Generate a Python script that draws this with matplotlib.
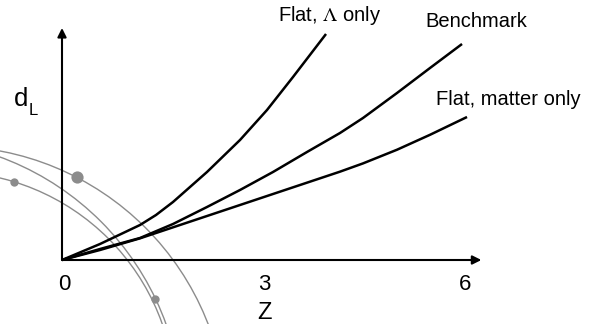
import matplotlib
matplotlib.use("Agg")
import matplotlib.pyplot as plt
from matplotlib.patches import Circle

plt.rcParams['font.family'] = ['Liberation Sans', 'DejaVu Sans']
plt.rcParams['mathtext.fontset'] = 'stix'

# luminosity distance curves (z, d_L in arbitrary units)
z_lambda = [0, 0.570, 1.170, 1.410, 1.665, 2.175, 2.670, 3.075, 3.465, 3.960]
dl_lambda = [0, 0.240, 0.525, 0.675, 0.870, 1.320, 1.800, 2.250, 2.745, 3.390]

z_bench = [0, 0.570, 1.170, 1.665, 2.175, 2.670, 3.165, 3.675, 4.170, 4.515, 5.025, 5.520, 6.000]
dl_bench = [0, 0.165, 0.330, 0.540, 0.795, 1.050, 1.320, 1.620, 1.905, 2.130, 2.505, 2.880, 3.240]

z_matter = [0, 0.570, 1.170, 1.665, 2.175, 2.670, 3.165, 3.675, 4.170, 4.515, 5.025, 5.520, 6.075]
dl_matter = [0, 0.150, 0.325, 0.490, 0.660, 0.825, 0.990, 1.160, 1.325, 1.449, 1.654, 1.878, 2.145]

curve_labels = [r'Flat, $\Lambda$ only', 'Benchmark', 'Flat, matter only']
label_pos = [(4.02, 3.66), (6.21, 3.57), (6.69, 2.40)]

# grey wavefront arcs: centre x, centre y, radius
arc_cx = [-1.698, -2.373, -1.728]
arc_cy = [-2.463, -2.380, -2.104]
arc_r = [4.170, 4.182, 3.429]

# grey dots on the arcs
dot_x = [0.225, -0.72, 1.395]
dot_y = [1.245, 1.17, -0.585]
dot_size = [8.8, 6.0, 6.0]

xticks = [0, 3, 6]

fig = plt.figure(figsize=(5.92, 3.24), dpi=100)
ax = fig.add_axes([0, 0, 1, 1])
ax.set_xlim(-62 / 66.67, 530 / 66.67)
ax.set_ylim(-64 / 66.67, 260 / 66.67)
ax.axis('off')

for cx, cy, r in zip(arc_cx, arc_cy, arc_r):
    ax.add_patch(Circle((cx, cy), r, fill=False, edgecolor='#8c8c8c', lw=1.0, zorder=1))
for x, y, s in zip(dot_x, dot_y, dot_size):
    ax.plot(x, y, 'o', color='#8c8c8c', ms=s, mec='none', zorder=2)

for zz, dd in [(z_lambda, dl_lambda), (z_bench, dl_bench), (z_matter, dl_matter)]:
    ax.plot(zz, dd, color='black', lw=1.8, solid_capstyle='butt',
            solid_joinstyle='round', zorder=3)

# axes drawn as arrows
arrow = dict(arrowstyle='-|>', color='black', lw=1.5, mutation_scale=13, shrinkA=0, shrinkB=0)
ax.annotate('', xy=(6.29, 0), xytext=(0, 0), arrowprops=arrow, zorder=4)
ax.annotate('', xy=(0, 3.48), xytext=(0, 0), arrowprops=arrow, zorder=4)

for t in xticks:
    ax.text(t + 0.04, -0.37, str(t), ha='center', va='center', fontsize=16)
ax.text(3.04, -0.8, 'Z', ha='center', va='center', fontsize=17)

ax.text(-0.62, 2.415, 'd', ha='center', va='center', fontsize=18.5)
ax.text(-0.43, 2.24, 'L', ha='center', va='center', fontsize=12)

for lab, (x, y) in zip(curve_labels, label_pos):
    ax.text(x, y, lab, ha='center', va='center', fontsize=14.5)

fig.savefig('out.png', dpi=100)
